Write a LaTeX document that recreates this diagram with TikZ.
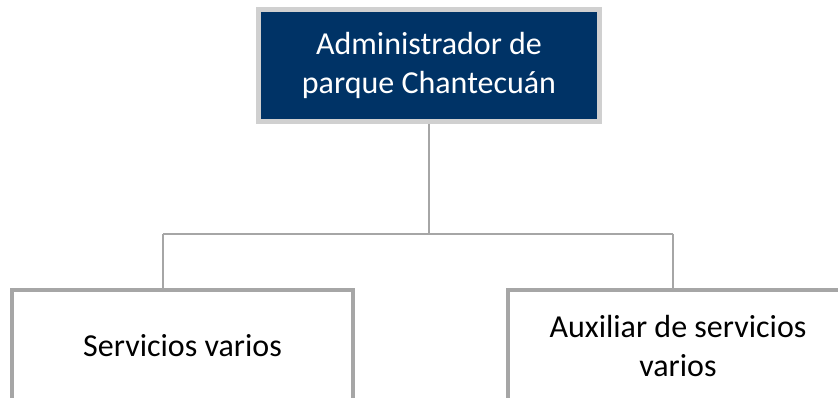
\documentclass[tikz,border=0pt]{standalone}
\usepackage{fontspec}
\setmainfont{Carlito}
\usetikzlibrary{positioning, calc}
\definecolor{ParkNavy}{HTML}{003366}
\definecolor{ParkLightGray}{HTML}{D0D0D0}
\definecolor{ParkGray}{HTML}{A6A6A6}
\tikzset{
    % Box styles - sharp corners
    headbox/.style={
        rectangle,
        draw=ParkLightGray,
        fill=ParkNavy,
        line width=5pt,
        minimum width=341pt,
        minimum height=112pt,
        align=center,
        text=white,
        font=\fontsize{32}{39}\selectfont
    },
    staffbox/.style={
        rectangle,
        draw=ParkGray,
        fill=white,
        line width=4pt,
        minimum width=341pt,
        minimum height=112pt,
        align=center,
        font=\fontsize{32}{39}\selectfont
    },
    % Connector style - straight lines only
    link/.style={
        line width=2pt,
        draw=ParkGray
    }
}
\begin{document}
\begin{tikzpicture}[x=1pt, y=1pt]
    \useasboundingbox (0,0) rectangle (838,-398);
    \clip (0,0) rectangle (838,-398);

    % Head of the park
    \node[headbox] (admin) at (429,-65.5) {Administrador de\\parque Chantecuán};

    % Staff
    \node[staffbox] (sv) at (182.5,-346) {Servicios varios};
    \node[staffbox] (aux) at (678,-346) {Auxiliar de servicios\\varios};

    % Connectors
    \coordinate (busL) at (163,-234);
    \coordinate (busR) at (673,-234);
    \draw[link] (admin.south) -- (admin.south |- busL);
    \draw[link] (busL) -- (busR);
    \draw[link] (busL) -- (busL |- sv.north);
    \draw[link] (busR) -- (busR |- aux.north);
\end{tikzpicture}
\end{document}
